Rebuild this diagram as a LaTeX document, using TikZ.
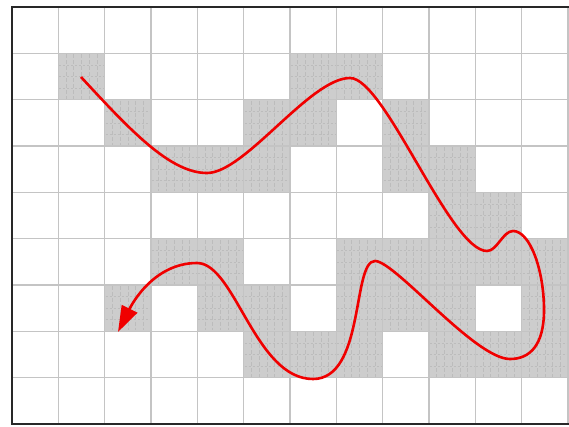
\documentclass[tikz,border=0pt]{standalone}
\usetikzlibrary{arrows.meta}
\definecolor{cellfill}{RGB}{205,205,205}
\definecolor{texcol}{RGB}{188,188,188}
\definecolor{gridcol}{RGB}{196,196,196}
\definecolor{bordercol}{RGB}{40,40,40}
\definecolor{curvecol}{RGB}{240,0,0}
\tikzset{
  shadecell/.style={fill=cellfill},
  texline/.style={draw=texcol,line width=0.6pt,dash pattern=on 4pt off 2pt},
  texdot/.style={draw=texcol,line width=0.6pt,dash pattern=on 2pt off 2pt},
  gridline/.style={draw=gridcol,line width=1.6pt},
  borderline/.style={draw=bordercol,line width=2pt},
  pathcurve/.style={draw=curvecol,line width=2.6pt,-{Triangle[length=26pt,width=17pt]}}
}
\begin{document}
\begin{tikzpicture}[x=1pt,y=-1pt]
\useasboundingbox (0,0) rectangle (569,426);
\fill[white] (0,0) rectangle (569,426);
\def\s{46.33}
% shaded cells
\foreach \c/\r in {1/1,6/1,7/1,
  2/2,5/2,6/2,8/2,
  3/3,4/3,5/3,8/3,9/3,
  9/4,10/4,
  3/5,4/5,7/5,8/5,9/5,10/5,11/5,
  2/6,4/6,5/6,7/6,8/6,9/6,11/6,
  5/7,6/7,7/7,9/7,10/7,11/7} {
  \fill[shadecell] ({12+\c*\s},{7+\r*\s}) rectangle ++(\s,\s);
  \foreach \k in {1,...,5}
    \draw[texline] ({12+\c*\s+\k*\s/6},{7+\r*\s+1}) -- ++(0,\s-2);
  \foreach \k in {1,2,3}
    \draw[texdot] ({12+\c*\s+1},{7+\r*\s+\k*\s/4}) -- ++(\s-2,0);
}
% grid
\foreach \i in {1,...,12}
  \draw[gridline] ({12+\i*\s},7) -- ({12+\i*\s},424);
\foreach \j in {1,...,8}
  \draw[gridline] (12,{7+\j*\s}) -- (569,{7+\j*\s});
% borders
\draw[borderline] (569,7) -- (12,7) -- (12,424) -- (569,424);
% curve key points
\coordinate (p0) at (81,77);
\coordinate (p1) at (207,173);
\coordinate (p2) at (350,78);
\coordinate (p3) at (487,251);
\coordinate (p4) at (513,231);
\coordinate (p5) at (544,310);
\coordinate (p6) at (510,359);
\coordinate (p7) at (375,261);
\coordinate (p8) at (313,379);
\coordinate (p9) at (197,263);
\coordinate (p10) at (118,332);
\draw[pathcurve] (p0)
  .. controls (130,130) and (170,173) .. (p1)
  .. controls (245,173) and (310,78) .. (p2)
  .. controls (385,78) and (450,251) .. (p3)
  .. controls (497,251) and (503,231) .. (p4)
  .. controls (530,231) and (544,270) .. (p5)
  .. controls (544,345) and (530,359) .. (p6)
  .. controls (475,359) and (395,261) .. (p7)
  .. controls (352,261) and (365,379) .. (p8)
  .. controls (255,379) and (235,263) .. (p9)
  .. controls (150,263) and (128,312) .. (p10);
\end{tikzpicture}
\end{document}
